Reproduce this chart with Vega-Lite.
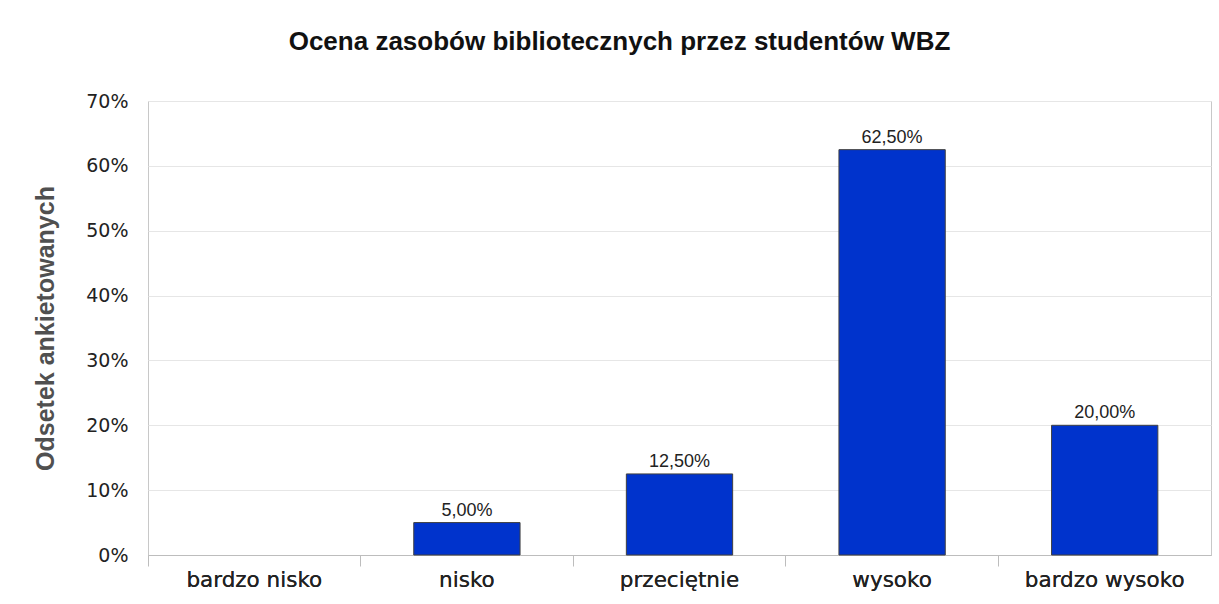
{
  "$schema": "https://vega.github.io/schema/vega-lite/v6.json",
  "width": 1063,
  "height": 454,
  "autosize": {"type": "none"},
  "padding": {"left": 148, "top": 101, "right": 8, "bottom": 49},
  "background": "white",
  "title": {
    "text": "Ocena zasobów bibliotecznych przez studentów WBZ",
    "font": "Liberation Sans",
    "fontSize": 26,
    "fontWeight": "bold",
    "color": "#111111",
    "anchor": "middle",
    "dx": -60,
    "offset": 37
  },
  "data": {
    "values": [
      {"ocena": "bardzo nisko", "odsetek": 0.0},
      {"ocena": "nisko", "odsetek": 0.05},
      {"ocena": "przeciętnie", "odsetek": 0.125},
      {"ocena": "wysoko", "odsetek": 0.625},
      {"ocena": "bardzo wysoko", "odsetek": 0.2}
    ]
  },
  "encoding": {
    "x": {
      "field": "ocena",
      "type": "nominal",
      "sort": null,
      "scale": {"domain": ["bardzo nisko", "nisko", "przeciętnie", "wysoko", "bardzo wysoko"], "paddingInner": 0.5, "paddingOuter": 0.25},
      "axis": {
        "orient": "bottom",
        "title": null,
        "labelAngle": 0,
        "ticks": false,
        "domain": true,
        "domainColor": "#bdbdbd",
        "labelFont": "DejaVu Sans",
        "labelFontSize": 21.5,
        "labelColor": "#222222",
        "labelPadding": 14
      }
    },
    "y": {
      "field": "odsetek",
      "type": "quantitative",
      "scale": {"domain": [0, 0.7]},
      "axis": {
        "title": "Odsetek ankietowanych",
        "titleFont": "Liberation Sans",
        "titleFontSize": 25,
        "titleFontWeight": "bold",
        "titleColor": "#505050",
        "titleX": -90,
        "format": ".0%",
        "values": [0, 0.1, 0.2, 0.3, 0.4, 0.5, 0.6, 0.7],
        "ticks": false,
        "domain": false,
        "grid": true,
        "gridColor": "#e6e6e6",
        "labelFont": "DejaVu Sans",
        "labelFontSize": 19,
        "labelColor": "#222222",
        "labelPadding": 20
      }
    }
  },
  "layer": [
    {
      "mark": {"type": "bar", "fill": "#0033cc", "stroke": "#404040", "strokeWidth": 1},
      "transform": [{"filter": "datum.odsetek > 0"}]
    },
    {
      "mark": {"type": "text", "baseline": "bottom", "dy": -3, "font": "Liberation Sans", "fontSize": 18, "color": "#222222"},
      "transform": [{"filter": "datum.odsetek > 0"}],
      "encoding": {"text": {"field": "odsetek", "type": "quantitative", "format": ".2%"}}
    },
    {
      "mark": {"type": "rule", "opacity": 0},
      "encoding": {
        "x": {
          "field": "ocena",
          "type": "nominal",
          "sort": null,
          "axis": {
            "orient": "bottom",
            "bandPosition": -0.5,
            "labels": false,
            "ticks": true,
            "tickSize": 11,
            "tickColor": "#bdbdbd",
            "domain": false,
            "grid": false,
            "title": null
          }
        },
        "y": {"field": "odsetek", "type": "quantitative"}
      }
    }
  ],
  "resolve": {"axis": {"x": "independent"}},
  "config": {
    "locale": {"number": {"decimal": ",", "thousands": " ", "grouping": [3], "currency": ["", " zł"]}},
    "view": {"stroke": "#c8c8c8", "strokeWidth": 1}
  }
}
